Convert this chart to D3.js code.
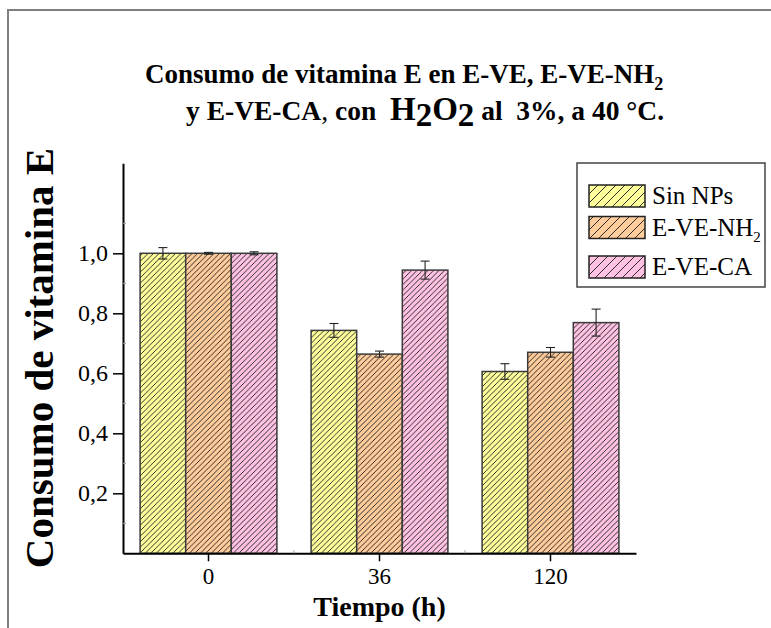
<!DOCTYPE html>
<html>
<head>
<meta charset="utf-8">
<script src="https://cdn.jsdelivr.net/npm/d3@7/dist/d3.min.js"></script>
<style>
  html, body { margin: 0; padding: 0; background: #fff; }
  svg { display: block; }
  text { font-family: "Liberation Serif", "Times New Roman", serif; fill: #000; }
</style>
</head>
<body>
<svg id="chart" width="771" height="628"></svg>
<script>
// Tiempo de reacción (h)
const categories = ["0", "36", "120"];
// Series names (legend)
const seriesNames = ["Sin NPs", "E-VE-NH2", "E-VE-CA"];
// Consumo relativo de vitamina E
const sinNPs   = [1.000, 0.743, 0.606];
const eveNH2   = [1.000, 0.664, 0.670];
const eveCA    = [1.000, 0.944, 0.769];
// Desviaciones
const sinNPsErr = [0.019, 0.023, 0.026];
const eveNH2Err = [0.003, 0.010, 0.016];
const eveCAErr  = [0.005, 0.030, 0.045];
// Y tick values and labels
const yTicks = [0.2, 0.4, 0.6, 0.8, 1.0];
const yTickLabels = ["0,2", "0,4", "0,6", "0,8", "1,0"];
const fills = ["#ffff9c", "#ffcc9c", "#ffc2e2"];

const seriesValues = [sinNPs, eveNH2, eveCA];
const seriesErrors = [sinNPsErr, eveNH2Err, eveCAErr];

const svg = d3.select("#chart");

// Outer frame
svg.append("path")
  .attr("d", "M8,628 L8,10 L771,10")
  .attr("fill", "none").attr("stroke", "#7f7f7f").attr("stroke-width", 2);

const x0 = d3.scaleBand().domain(categories).range([123, 636]).paddingInner(0.2).paddingOuter(0.1);
const x1 = d3.scaleBand().domain(seriesNames).range([0, x0.bandwidth()]);
const y = d3.scaleLinear().domain([0, 1.3]).range([553.3, 163.3]);

// Hatch patterns
const defs = svg.append("defs");
function hatch(id, color, s) {
  const p = defs.append("pattern").attr("id", id)
    .attr("patternUnits", "userSpaceOnUse").attr("width", s).attr("height", s);
  p.append("rect").attr("width", s).attr("height", s).attr("fill", color);
  p.append("path")
    .attr("d", `M-1,1 l2,-2 M0,${s} l${s},${-s} M${s - 1},${s + 1} l2,-2`)
    .attr("stroke", "#1a1a1a").attr("stroke-width", 0.9);
}
fills.forEach((c, i) => { hatch("bar" + i, c, 5.5); hatch("leg" + i, c, 9); });

// Bars
const rows = [];
categories.forEach((c, ci) => seriesNames.forEach((s, si) => rows.push({
  cat: c, ser: s, si, v: seriesValues[si][ci], e: seriesErrors[si][ci]
})));

const g = svg.append("g");
g.selectAll("rect.bar").data(rows).join("rect")
  .attr("class", "bar")
  .attr("x", d => x0(d.cat) + x1(d.ser))
  .attr("y", d => y(d.v))
  .attr("width", x1.bandwidth())
  .attr("height", d => y(0) - y(d.v))
  .attr("fill", d => `url(#bar${d.si})`)
  .attr("stroke", "#3a3a3a").attr("stroke-width", 1.5);

// Error bars
const eb = g.selectAll("g.err").data(rows).join("g").attr("class", "err")
  .attr("transform", d => `translate(${x0(d.cat) + x1(d.ser) + x1.bandwidth() / 2},0)`)
  .attr("stroke", "#222").attr("stroke-width", 1.1);
eb.append("line").attr("y1", d => y(d.v + d.e)).attr("y2", d => y(d.v - d.e));
eb.append("line").attr("x1", -4.5).attr("x2", 4.5).attr("y1", d => y(d.v + d.e)).attr("y2", d => y(d.v + d.e));
eb.append("line").attr("x1", -4.5).attr("x2", 4.5).attr("y1", d => y(d.v - d.e)).attr("y2", d => y(d.v - d.e));

// Axes
const yAxis = d3.axisLeft(y).tickValues(yTicks)
  .tickFormat((d, i) => yTickLabels[i]).tickSize(10).tickSizeOuter(0).tickPadding(5);
const ya = svg.append("g").attr("transform", "translate(123,0)").call(yAxis);
ya.select(".domain").attr("stroke", "#000").attr("stroke-width", 2);
ya.selectAll(".tick line").attr("stroke", "#000").attr("stroke-width", 1.5);
ya.selectAll(".tick text").attr("font-size", 24).attr("font-family", "Liberation Serif");

const xAxis = d3.axisBottom(x0).tickSize(8).tickSizeOuter(0).tickPadding(6);
const xa = svg.append("g").attr("transform", `translate(0,${y(0)})`).call(xAxis);
xa.select(".domain").attr("stroke", "#000").attr("stroke-width", 2);
xa.selectAll(".tick line").attr("stroke", "#000").attr("stroke-width", 1.5);
xa.selectAll(".tick text").attr("font-size", 23).attr("font-family", "Liberation Serif");

// Minor ticks
const minorY = [0.1, 0.3, 0.5, 0.7, 0.9, 1.1];
svg.append("g").selectAll("line").data(minorY).join("line")
  .attr("x1", 123).attr("x2", 126).attr("y1", d => y(d)).attr("y2", d => y(d))
  .attr("stroke", "#999").attr("stroke-width", 1);
const bounds = categories.slice(1).map(c => x0(c) - x0.step() * x0.paddingInner() / 2);
svg.append("g").selectAll("line").data(bounds).join("line")
  .attr("x1", d => d).attr("x2", d => d).attr("y1", y(0)).attr("y2", y(0) - 3)
  .attr("stroke", "#999").attr("stroke-width", 1);

// Axis titles
svg.append("text")
  .attr("transform", `translate(53,${358}) rotate(-90)`)
  .attr("text-anchor", "middle").attr("font-weight", "bold").attr("font-size", 41)
  .text("Consumo de vitamina E");
svg.append("text")
  .attr("x", (x0.range()[0] + x0.range()[1]) / 2).attr("y", 616)
  .attr("text-anchor", "middle").attr("font-weight", "bold").attr("font-size", 28)
  .text("Tiempo (h)");

// Title
const t1 = svg.append("text").attr("x", 145).attr("y", 83)
  .attr("font-weight", "bold").attr("font-size", 27);
t1.append("tspan").text("Consumo de vitamina E en E-VE, E-VE-NH");
t1.append("tspan").attr("font-size", 18).attr("dy", 7).text("2");

const t2 = svg.append("text").attr("x", 186).attr("y", 120)
  .attr("font-weight", "bold").attr("font-size", 27.5);
t2.append("tspan").text("y E-VE-CA");
t2.append("tspan").attr("font-weight", "normal").text(", ");
t2.append("tspan").text("con\u00a0\u00a0");
t2.append("tspan").attr("font-size", 33).text("H");
t2.append("tspan").attr("font-size", 33).attr("dy", 6).text("2");
t2.append("tspan").attr("font-size", 33).attr("dy", -6).text("O");
t2.append("tspan").attr("font-size", 33).attr("dy", 6).text("2");
t2.append("tspan").attr("dy", -6).text(" al\u00a0\u00a03%, a 40 °C.");

// Legend
const lg = svg.append("g");
lg.append("rect").attr("x", 577).attr("y", 163).attr("width", 188).attr("height", 124)
  .attr("fill", "#fff").attr("stroke", "#444").attr("stroke-width", 1.5);
const legY = [185, 216.5, 256];
seriesNames.forEach((s, i) => {
  lg.append("rect").attr("x", 589).attr("y", legY[i]).attr("width", 56).attr("height", 22)
    .attr("fill", `url(#leg${i})`).attr("stroke", "#222").attr("stroke-width", 1.5);
  const tx = lg.append("text").attr("x", 652).attr("y", legY[i] + 19).attr("font-size", 25);
  if (s === "E-VE-NH2") {
    tx.append("tspan").text("E-VE-NH");
    tx.append("tspan").attr("font-size", 15).attr("dy", 6).text("2");
  } else {
    tx.text(s);
  }
});
</script>
</body>
</html>
